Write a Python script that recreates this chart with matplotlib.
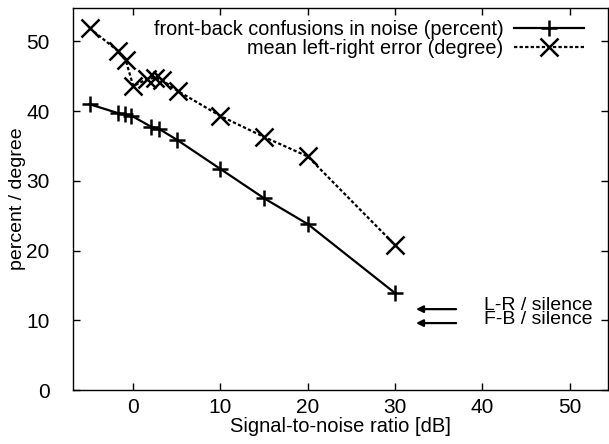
import matplotlib
matplotlib.use("Agg")
import matplotlib.pyplot as plt

plt.rcParams['font.family'] = ['Liberation Sans', 'DejaVu Sans']

# Data
snr_fb = [-5, -1.7, -0.95, -0.2, 2.0, 2.9, 5, 10, 15, 20, 30]
fb_confusions = [41.0, 39.7, 39.55, 39.35, 37.8, 37.5, 35.9, 31.7, 27.5, 23.8, 13.9]

snr_lr = [-5, -1.8, -0.85, 0, 1.6, 2.5, 3.25, 5.1, 10, 15, 20, 30]
lr_error = [51.9, 48.7, 47.3, 43.6, 44.6, 44.8, 44.5, 42.9, 39.3, 36.3, 33.5, 20.8]

silence_labels = ["L-R / silence", "F-B / silence"]
silence_values = [11.6, 9.6]

xticks = [0, 10, 20, 30, 40, 50]
yticks = [0, 10, 20, 30, 40, 50]

fig = plt.figure(figsize=(6.09, 4.44), dpi=100)
ax = fig.add_axes([73/609, 1 - 390/444, (608 - 73)/609, (390 - 8)/444])

ax.plot(snr_fb, fb_confusions, color='black', lw=1.6, marker='+', ms=12, mew=1.8,
        label='front-back confusions in noise (percent)')
ax.plot(snr_lr, lr_error, color='black', lw=1.6, ls=(0, (1.5, 1)), marker='x', ms=13, mew=1.8,
        label='mean left-right error (degree)')

for v in silence_values:
    ax.annotate('', xy=(32.4, v), xytext=(37.0, v),
                arrowprops=dict(arrowstyle='-|>', color='black', lw=1.6,
                                mutation_scale=10, shrinkA=0, shrinkB=0))
ax.text(52.6, sum(silence_values) / 2 + 0.5, "\n".join(silence_labels),
        ha='right', va='center', multialignment='right', fontsize=14, linespacing=0.82)

ax.set_xlim(-6.9, 54.4)
ax.set_ylim(0, 54.8)
ax.set_xticks(xticks)
ax.set_yticks(yticks)
ax.tick_params(direction='in', length=5, width=1, top=True, right=True, labelsize=15)
ax.tick_params(axis='y', pad=17)
ax.tick_params(axis='x', pad=6)
for s in ax.spines.values():
    s.set_linewidth(1.0)

ax.set_xlabel('Signal-to-noise ratio [dB]', fontsize=14.5, labelpad=0)
ax.set_ylabel('percent / degree', fontsize=14, labelpad=0)

leg = ax.legend(loc='upper right', frameon=False, markerfirst=False, fontsize=14.3,
                handlelength=3.5, handletextpad=0.55, labelspacing=0.0,
                borderaxespad=0, borderpad=0,
                bbox_to_anchor=(584/609, 1 - 20/444), bbox_transform=fig.transFigure)
for t in leg.get_texts():
    t.set_ha('right')

fig.savefig('out.png', dpi=100)
